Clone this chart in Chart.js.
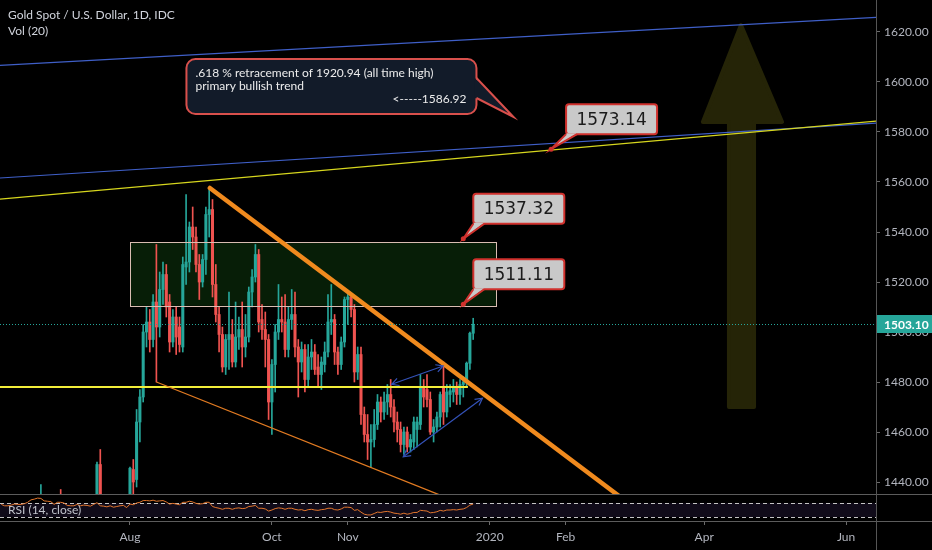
<!DOCTYPE html>
<html><head><meta charset="utf-8">
<script src="https://cdn.jsdelivr.net/npm/chart.js@4.4.1/dist/chart.umd.min.js"></script>
<style>
html,body{margin:0;padding:0;background:#000;overflow:hidden}
#wrap{position:relative;width:932px;height:550px;background:#000}
#c1{position:absolute;left:0;top:0}
#c2{position:absolute;left:0;top:494px}
</style></head><body>
<div id="wrap"><canvas id="c1" width="932" height="494"></canvas><canvas id="c2" width="932" height="56"></canvas></div>
<script>
// ---------- DATA ----------
const FIRST_BAR = -39; // bar index of first candle (index 0 = 1 Aug 2019)
const opens = [
1336,1341,1327,1327,1334,1342,1341,1340,1346,1361,
1387,1400,1418,1423,1408,1409,1398,1385,1422,1417,
1415,1399,1396,1397,1419,1403,1415,1413,1406,1426,
1447,1426,1424,1418,1426,1414,1419,1426,1430,
1413,1445,1441,1464,1474,1500,1504,1497,1512,1502,
1517,1523,1512,1496,1506,1502,1494,1526,1528,1542,
1538,1527,1520,1529,1547,1549,1519,1507,1499,1486,
1497,1499,1488,1498,1501,1494,1498,1516,1522,1531,
1505,1501,1497,1472,1487,1500,1505,1504,1493,1505,
1507,1494,1488,1493,1481,1490,1492,1486,1483,1487,
1492,1504,1505,1492,1487,1496,1513,1514,1509,1484,
1491,1467,1459,1456,1457,1463,1472,1468,1472,1475,
1470,1464,1461,1455,1460,1454,1456,1461,1463,1478,
1477,1473,1460,1462,1466,1478,1468,1475,1476,1478,
1475,1479,1480,1487.5,1499.5];
const highs = [
1348,1342,1336,1337,1347,1358,1345,1355,1362,1394,
1411,1420,1439,1426,1415,1418,1400,1420,1437,1421,
1421,1403,1401,1421,1427,1418,1418,1416,1427,1448,
1453,1430,1427,1433,1433,1425,1428,1434,1433,
1446,1449,1469,1477,1503,1510,1509,1515,1535,1524,
1528,1527,1515,1509,1510,1506,1530,1555,1544,1550,
1542,1531,1531,1550,1557,1553,1527,1510,1502,1499,
1516,1505,1512,1506,1512,1507,1518,1525,1535,1533,
1511,1508,1499,1489,1503,1519,1514,1515,1510,1517,
1516,1497,1496,1495,1495,1497,1495,1491,1490,1496,
1515,1519,1507,1494,1498,1514,1516,1515,1511,1494,
1494,1470,1467,1463,1469,1475,1474,1476,1479,1481,
1473,1468,1464,1462,1462,1459,1466,1466,1483,1481,
1483,1476,1465,1468,1476,1488,1479,1479,1481,1480,
1481,1482,1488,1500,1505.5];
const lows = [
1330,1323,1322,1325,1332,1337,1336,1332,1340,1358,
1385,1396,1415,1402,1400,1400,1381,1383,1411,1410,
1386,1388,1385,1392,1400,1401,1406,1400,1403,1421,
1420,1418,1412,1414,1412,1411,1416,1422,1401,
1400,1433,1438,1456,1472,1494,1492,1494,1480,1498,
1511,1506,1492,1494,1491,1492,1492,1519,1524,1533,
1524,1513,1518,1523,1538,1514,1504,1492,1484,1483,
1485,1486,1486,1493,1486,1490,1496,1510,1520,1500,
1497,1486,1465,1459,1476,1497,1500,1490,1490,1501,
1490,1474,1484,1476,1478,1485,1483,1478,1477,1484,
1490,1499,1487,1483,1485,1494,1503,1506,1480,1481,
1463,1456,1449,1446,1454,1461,1464,1465,1467,1466,
1460,1456,1452,1451,1452,1452,1453,1454,1461,1470,
1470,1459,1456,1460,1462,1463,1466,1470,1472,1471,
1471,1474,1478,1485,1497];
const closes = [
1341,1327,1327,1334,1342,1341,1340,1346,1361,1387,
1400,1418,1423,1408,1409,1409,1385,1418,1417,1415,
1399,1396,1397,1419,1403,1415,1413,1406,1426,1447,
1426,1424,1418,1426,1414,1419,1426,1430,1413,
1445.5,1440,1464,1474,1500,1504,1497,1512,1502,1517,
1523,1510,1496,1506,1498,1495,1527,1528,1542,1538,
1527,1520,1529,1547,1549,1519,1507,1499,1486,1497,
1499,1488,1498,1501,1494,1498,1516,1522,1531,1504,
1501,1497,1472,1487,1500,1505,1504,1493,1505,1507,
1494,1488,1493,1481,1490,1492,1485,1483,1488,1492,
1504,1505,1492,1487,1496,1513,1514,1509,1484,1491,
1467,1459,1456,1457,1463,1472,1468,1472,1475,1470,
1464,1461,1455,1460,1454,1457,1464,1464,1478,1474,
1473,1460,1462,1466,1475,1468,1476,1476.5,1478,1475,
1479,1480,1487.5,1499.5,1503.1];
const rsiValues = [
66,62,62,64,67,66,66,68,72,79,
81,84,83,76,75,74,66,72,72,70,
63,62,62,66,62,64,63,61,66,71,
62,61,59,62,58,60,62,63,57,67,
65,70,72,77,77,76,78,75,76,77,
73,67,69,67,65,72,72,75,73,69,
67,68,72,72,60,57,55,52,55,55,
52,55,56,54,55,60,61,63,55,55,
53,47,50,54,56,55,52,55,55,52,
50,51,48,51,52,50,49,51,52,55,
55,51,50,53,58,58,57,49,51,44,
38,36,36,40,44,43,45,46,44,41,
40,38,41,38,40,43,43,49,48,47,
42,43,45,49,47,50,50,51,50,52,
53,57,64,67];
const priceTicks = [1440,1460,1480,1500,1520,1540,1560,1580,1600,1620];
const timeTickIdx = [0,43,66,109,132,174,217];
const timeTickLabels = ['Aug','Oct','Nov','2020','Feb','Apr','Jun'];
const lastPrice = 1503.10;
// drawings: [barIndex, price]
const zoneBox = [[0,1536],[110.9,1510.5]];
const topBlueLine = [[-40,1606.6],[230,1626.1]];
const midBlueLine = [[-40,1561.55],[230,1583.9]];
const risingYellow = [[-40,1553.1],[230,1584.8]];
const supportYellow = [[-40,1478],[102.4,1478]];
const downTrendThick = [[24.2,1557.6],[150,1432.6]];
const lowerWedge = [[8,1480],[100,1431.6]];
const channelArrowA = [[79.3,1479.1],[94.9,1486.4]];
const channelArrowB = [[82.8,1450.1],[106.8,1473.5]];
const bigArrow = [[185.15,1622.8],[197.6,1584],[189.1,1584],[189.1,1470],[181.5,1470],[181.5,1584],[173.6,1584]];
const levelLabels = [1537.32,1511.11,1573.14];
const levelAnchors = [101,101,127.6];
const calloutAnchor = [116.2,1586];
const calloutLines = ['.618 % retracement of 1920.94 (all time high)','primary bullish trend','<-----1586.92'];
const titleLines = ['Gold Spot / U.S. Dollar, 1D, IDC','Vol (20)'];
const rsiTitle = 'RSI (14, close)';
const rsiLevels = [70,30];

// ---------- SETUP ----------
const X_MIN = -39.39, X_MAX = 226.06;
const UP = '#26a69a', DN = '#ef5350';
const bars = opens.map((o,k)=>({x:FIRST_BAR+k,o:o,h:highs[k],l:lows[k],c:closes[k]}));
Chart.defaults.font.family = 'Lato';

function mapper(chart){
  const xs = chart.scales.x, ys = chart.scales.y;
  return {X:v=>xs.getPixelForValue(v), Y:v=>ys.getPixelForValue(v)};
}
function seg(ctx,m,a,b){
  ctx.beginPath(); ctx.moveTo(m.X(a[0]),m.Y(a[1])); ctx.lineTo(m.X(b[0]),m.Y(b[1])); ctx.stroke();
}
function head(ctx,x1,y1,x2,y2,len){
  const a = Math.atan2(y2-y1,x2-x1);
  ctx.beginPath();
  ctx.moveTo(x2-len*Math.cos(a-0.5), y2-len*Math.sin(a-0.5));
  ctx.lineTo(x2,y2);
  ctx.lineTo(x2-len*Math.cos(a+0.5), y2-len*Math.sin(a+0.5));
  ctx.stroke();
}
function clipArea(ctx,area){
  ctx.save(); ctx.beginPath(); ctx.rect(area.left,area.top,area.width,area.height); ctx.clip();
}

const priceDrawings = {
  id:'priceDrawings',
  beforeDatasetsDraw(chart){
    const ctx = chart.ctx, m = mapper(chart);
    clipArea(ctx, chart.chartArea);
    // big arrow
    ctx.fillStyle = '#252407'; ctx.strokeStyle = '#252407'; ctx.lineWidth = 4; ctx.lineJoin = 'round';
    ctx.beginPath();
    bigArrow.forEach((p,k)=>{ const x=m.X(p[0]), y=m.Y(p[1]); if(k===0) ctx.moveTo(x,y); else ctx.lineTo(x,y); });
    ctx.closePath(); ctx.fill(); ctx.stroke();
    // zone fill
    const x1 = m.X(zoneBox[0][0]), y1 = m.Y(zoneBox[0][1]), x2 = m.X(zoneBox[1][0]), y2 = m.Y(zoneBox[1][1]);
    ctx.fillStyle = 'rgba(20,90,20,0.33)';
    ctx.fillRect(x1,y1,x2-x1,y2-y1);
    ctx.restore();
  },
  afterDatasetsDraw(chart){
    const ctx = chart.ctx, m = mapper(chart), area = chart.chartArea;
    clipArea(ctx, area);
    ctx.lineCap = 'butt';
    // zone border
    const x1 = m.X(zoneBox[0][0]), y1 = m.Y(zoneBox[0][1]), x2 = m.X(zoneBox[1][0]), y2 = m.Y(zoneBox[1][1]);
    ctx.strokeStyle = '#d9bdb2'; ctx.lineWidth = 1;
    ctx.strokeRect(Math.round(x1)+0.5, Math.round(y1)+0.5, Math.round(x2-x1), Math.round(y2-y1));
    // long lines
    ctx.lineWidth = 1.2;
    ctx.strokeStyle = '#3f5fc8'; seg(ctx,m,topBlueLine[0],topBlueLine[1]);
    ctx.strokeStyle = '#3f5fc8'; seg(ctx,m,midBlueLine[0],midBlueLine[1]);
    ctx.strokeStyle = '#d6d61e'; seg(ctx,m,risingYellow[0],risingYellow[1]);
    ctx.lineWidth = 2.2; ctx.strokeStyle = '#f2ee3a'; seg(ctx,m,supportYellow[0],supportYellow[1]);
    ctx.lineWidth = 1.3; ctx.strokeStyle = '#e27b22'; seg(ctx,m,lowerWedge[0],lowerWedge[1]);
    ctx.lineWidth = 4.5; ctx.lineCap = 'round'; ctx.strokeStyle = '#f08a1e'; seg(ctx,m,downTrendThick[0],downTrendThick[1]);
    ctx.lineCap = 'butt';
    // channel arrows
    ctx.lineWidth = 1.2; ctx.strokeStyle = '#3452b8';
    [channelArrowA, channelArrowB].forEach(a=>{
      const ax = m.X(a[0][0]), ay = m.Y(a[0][1]), bx = m.X(a[1][0]), by = m.Y(a[1][1]);
      ctx.beginPath(); ctx.moveTo(ax,ay); ctx.lineTo(bx,by); ctx.stroke();
      head(ctx,ax,ay,bx,by,8); head(ctx,bx,by,ax,ay,8);
    });
    // last price dotted line
    ctx.setLineDash([1,2]); ctx.lineWidth = 1; ctx.strokeStyle = '#26a69a';
    const ly = Math.round(m.Y(lastPrice))+0.5;
    ctx.beginPath(); ctx.moveTo(area.left,ly); ctx.lineTo(area.right,ly); ctx.stroke();
    ctx.setLineDash([]);
    ctx.restore();

    // level labels
    levelLabels.forEach((v,k)=>{
      const ax = m.X(levelAnchors[k]), ay = m.Y(v);
      const dx = k===2 ? 15 : 10;
      const bx = ax+dx, by = ay-45, bw = 91, bh = 30;
      ctx.lineWidth = 2; ctx.strokeStyle = '#d0312d'; ctx.fillStyle = '#c9c9c9';
      ctx.beginPath(); ctx.roundRect(bx,by,bw,bh,3); ctx.fill(); ctx.stroke();
      ctx.beginPath(); ctx.moveTo(bx+1,by+bh-1); ctx.lineTo(ax,ay); ctx.lineTo(bx+11,by+bh-1); ctx.closePath(); ctx.fill();
      ctx.beginPath(); ctx.moveTo(bx,by+bh); ctx.lineTo(ax,ay); ctx.lineTo(bx+11,by+bh); ctx.stroke();
      ctx.fillStyle = '#d0312d'; ctx.beginPath(); ctx.arc(ax,ay,2.5,0,Math.PI*2); ctx.fill();
      ctx.fillStyle = '#1b1b1b'; ctx.font = '17px "DejaVu Sans"'; ctx.textAlign = 'center'; ctx.textBaseline = 'middle';
      ctx.fillText(v.toFixed(2), bx+bw/2, by+bh/2+1);
    });
    // big callout
    const tx = m.X(calloutAnchor[0]), ty = m.Y(calloutAnchor[1]);
    const L = tx-327, R = tx-37, T = ty-58, B = ty-3;
    ctx.lineWidth = 2; ctx.strokeStyle = '#d9504c'; ctx.fillStyle = '#121b29';
    ctx.beginPath(); ctx.roundRect(L,T,R-L,B-T,9); ctx.fill(); ctx.stroke();
    ctx.beginPath(); ctx.moveTo(R-1.5,ty-39); ctx.lineTo(tx,ty); ctx.lineTo(R-1.5,ty-19); ctx.closePath(); ctx.fill();
    ctx.beginPath(); ctx.moveTo(R,ty-39); ctx.lineTo(tx,ty); ctx.lineTo(R,ty-19); ctx.stroke();
    ctx.fillStyle = '#ececec'; ctx.font = '12px Lato'; ctx.textBaseline = 'middle';
    ctx.textAlign = 'left';
    ctx.fillText(calloutLines[0], L+9, T+14);
    ctx.fillText(calloutLines[1], L+9, T+27);
    ctx.textAlign = 'right';
    ctx.fillText(calloutLines[2], R-10, T+40.5);
  },
  afterDraw(chart){
    const ctx = chart.ctx, m = mapper(chart), area = chart.chartArea;
    // last price label on axis
    const y = m.Y(lastPrice);
    ctx.fillStyle = '#26a69a';
    ctx.fillRect(area.right+1, Math.round(y)-9, 56, 18);
    ctx.fillStyle = '#ffffff'; ctx.font = 'bold 12px Lato'; ctx.textAlign = 'left'; ctx.textBaseline = 'middle';
    ctx.fillText(lastPrice.toFixed(2), area.right+8, y+0.5);
    // titles
    ctx.fillStyle = '#d1d4dc'; ctx.font = '12px Lato';
    ctx.fillText(titleLines[0], 8, 15);
    ctx.fillText(titleLines[1], 8, 31);
  }
};

new Chart(document.getElementById('c1'), {
  type:'bar',
  data:{datasets:[
    {label:'wick', order:2, grouped:false, barThickness:1, borderWidth:0,
     data: bars.map(b=>({x:b.x, y:[b.l,b.h]})),
     backgroundColor: bars.map(b=>b.c>=b.o?UP:DN)},
    {label:'body', order:1, grouped:false, barThickness:2.4, borderWidth:0,
     data: bars.map(b=>({x:b.x, y:[Math.min(b.o,b.c), Math.max(b.o,b.c)]})),
     backgroundColor: bars.map(b=>b.c>=b.o?UP:DN)}
  ]},
  options:{
    responsive:false, animation:false, devicePixelRatio:1,
    layout:{padding:0},
    plugins:{legend:{display:false}, tooltip:{enabled:false}},
    scales:{
      x:{type:'linear', min:X_MIN, max:X_MAX, display:false, offset:false},
      y:{position:'right', min:1435.2, max:1632.8,
         afterBuildTicks(s){ s.ticks = priceTicks.map(v=>({value:v})); },
         afterFit(s){ s.width = 56; s.paddingTop = 0; s.paddingBottom = 0; },
         ticks:{color:'#b2b5be', font:{family:'Lato', size:12}, padding:4, callback:v=>Number(v).toFixed(2)},
         grid:{display:true, drawOnChartArea:false, drawTicks:true, tickLength:4, color:'#6a6a6a'},
         border:{display:true, color:'#555555'}}
    }
  },
  plugins:[priceDrawings]
});

const rsiDeco = {
  id:'rsiDeco',
  beforeDatasetsDraw(chart){
    const ctx = chart.ctx, a = chart.chartArea, ys = chart.scales.y;
    const yT = ys.getPixelForValue(rsiLevels[0]), yB = ys.getPixelForValue(rsiLevels[1]);
    ctx.fillStyle = 'rgba(126,87,194,0.13)';
    ctx.fillRect(a.left, yT, a.width, yB-yT);
    ctx.strokeStyle = '#c4c4c4'; ctx.lineWidth = 1; ctx.setLineDash([4,3]);
    [yT,yB].forEach(y=>{ ctx.beginPath(); ctx.moveTo(a.left, Math.round(y)+0.5); ctx.lineTo(a.right, Math.round(y)+0.5); ctx.stroke(); });
    ctx.setLineDash([]);
  },
  afterDatasetsDraw(chart){
    const ctx = chart.ctx;
    ctx.fillStyle = '#c0c3cb'; ctx.font = '12px Lato'; ctx.textAlign = 'left'; ctx.textBaseline = 'middle';
    ctx.fillText(rsiTitle, 8, 16);
  },
  afterDraw(chart){
    const ctx = chart.ctx, a = chart.chartArea;
    ctx.strokeStyle = '#5c5c5c'; ctx.lineWidth = 1;
    ctx.beginPath(); ctx.moveTo(0,0.5); ctx.lineTo(932,0.5); ctx.stroke();
    ctx.beginPath(); ctx.moveTo(0,Math.round(a.bottom)+0.5); ctx.lineTo(932,Math.round(a.bottom)+0.5); ctx.stroke();
    ctx.strokeStyle = '#555555';
    ctx.beginPath(); ctx.moveTo(Math.round(a.right)+0.5,0); ctx.lineTo(Math.round(a.right)+0.5,56); ctx.stroke();
  }
};

new Chart(document.getElementById('c2'), {
  type:'line',
  data:{datasets:[{data: rsiValues.map((v,k)=>({x:FIRST_BAR+k, y:v})), borderColor:'#e3762c', borderWidth:1, pointRadius:0, tension:0, fill:false}]},
  options:{
    responsive:false, animation:false, devicePixelRatio:1,
    layout:{padding:0},
    plugins:{legend:{display:false}, tooltip:{enabled:false}},
    scales:{
      x:{type:'linear', min:X_MIN, max:X_MAX, offset:false,
         afterBuildTicks(s){ s.ticks = timeTickIdx.map(v=>({value:v})); },
         afterFit(s){ s.height = 29; s.paddingLeft = 0; s.paddingRight = 0; },
         ticks:{autoSkip:false, maxRotation:0, color:'#b2b5be', font:{family:'Lato', size:12}, padding:5,
                callback:v=>timeTickLabels[timeTickIdx.indexOf(v)]},
         grid:{display:true, drawOnChartArea:false, drawTicks:true, tickLength:4, color:'#6a6a6a'},
         border:{display:false}},
      y:{position:'right', min:18.6, max:95.7,
         afterFit(s){ s.width = 56; s.paddingTop = 0; s.paddingBottom = 0; },
         ticks:{display:false}, grid:{display:false}, border:{display:false}}
    }
  },
  plugins:[rsiDeco]
});
</script>
</body></html>
